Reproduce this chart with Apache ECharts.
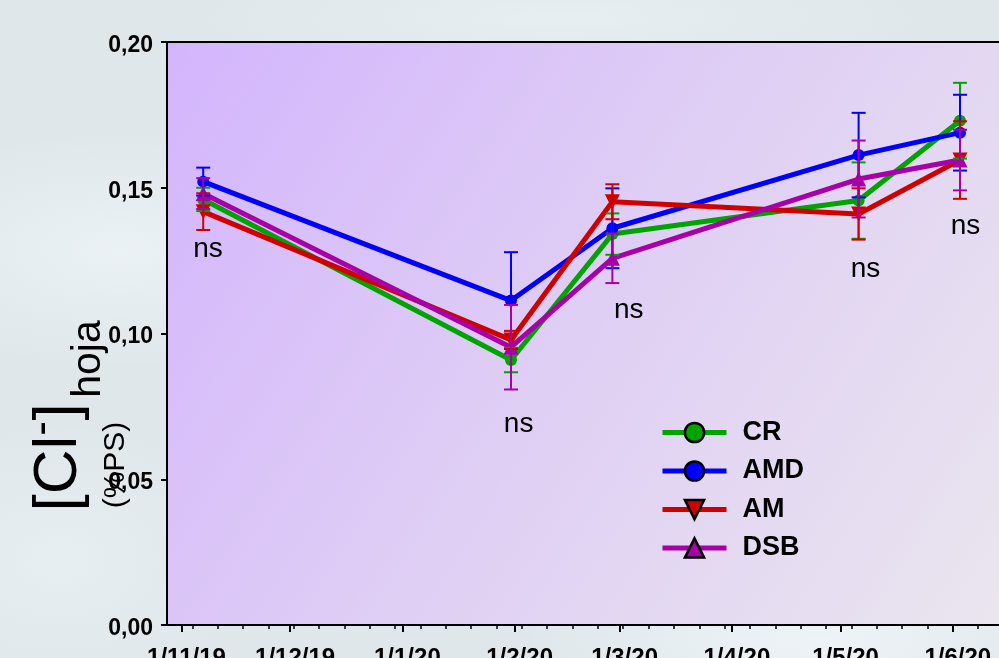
<!DOCTYPE html>
<html>
<head>
<meta charset="utf-8">
<script src="https://cdn.jsdelivr.net/npm/echarts@6/dist/echarts.min.js"></script>
<style>
  html, body { margin: 0; padding: 0; }
  body {
    width: 999px; height: 658px; overflow: hidden;
    background-color: #dfe7eb;
    background-image:
      radial-gradient(ellipse 260px 120px at 120px 250px, rgba(245,250,252,0.55), rgba(245,250,252,0) 100%),
      radial-gradient(ellipse 300px 90px at 820px 640px, rgba(248,252,253,0.6), rgba(248,252,253,0) 100%),
      radial-gradient(ellipse 380px 60px at 560px 18px, rgba(240,245,247,0.5), rgba(240,245,247,0) 100%),
      radial-gradient(ellipse 200px 140px at 60px 560px, rgba(242,247,249,0.45), rgba(242,247,249,0) 100%);
  }
  #chart { width: 999px; height: 658px; }
</style>
</head>
<body>
<div id="chart"></div>
<script>
// Sampling dates and leaf chloride content (% dry weight) per treatment
const sampleDates = ['2019-11-07', '2020-01-31', '2020-02-28', '2020-05-06', '2020-06-03'];

const crValues  = [0.1460, 0.0909, 0.1341, 0.1456, 0.1730];
const amdValues = [0.1521, 0.1113, 0.1361, 0.1612, 0.1689];
const amValues  = [0.1418, 0.0978, 0.1452, 0.1410, 0.1595];
const dsbValues = [0.1480, 0.0953, 0.1258, 0.1530, 0.1595];

// Standard errors
const crErr  = [0.0040, 0.0042, 0.0071, 0.0131, 0.0130];
const amdErr = [0.0048, 0.0166, 0.0137, 0.0145, 0.0130];
const amErr  = [0.0063, 0.0031, 0.0060, 0.0088, 0.0133];
const dsbErr = [0.0053, 0.0145, 0.0085, 0.0132, 0.0104];

// "ns" annotations (day offset from 1/11/19, value)
const nsDays   = [7.3, 93.1, 123.5, 188.9, 216.5];
const nsValues = [0.1289, 0.0689, 0.1081, 0.1221, 0.1369];

// Month tick labels
const monthLabels = ['2019-11-01', '2019-12-01', '2020-01-01', '2020-02-01', '2020-03-01', '2020-04-01', '2020-05-01', '2020-06-01'];
const monthTicks  = ['2019-11-01', '2019-12-01', '2020-01-01', '2020-02-01', '2020-03-01', '2020-04-01', '2020-05-01', '2020-06-01', '2020-07-01'];

const yTicks = [0, 0.05, 0.10, 0.15, 0.20];

const DAY = 86400000;
const ORIGIN = Date.UTC(2019, 10, 1);
function dayOf(s) {
  const p = s.split('-').map(Number);
  return Math.round((Date.UTC(p[0], p[1] - 1, p[2]) - ORIGIN) / DAY);
}
function dayLabel(d) {
  const t = new Date(ORIGIN + Math.round(d) * DAY);
  return t.getUTCDate() + '/' + (t.getUTCMonth() + 1) + '/' + String(t.getUTCFullYear() % 100).padStart(2, '0');
}

const xDays = sampleDates.map(dayOf);
// weekly (Monday) minor ticks
const weekTicks = [];
for (let d = dayOf('2019-11-04'); d <= 250; d += 7) weekTicks.push(d);

const FONT = 'Liberation Sans, Arial, sans-serif';
const colors = { CR: '#00a400', AMD: '#0000ff', AM: '#d00000', DSB: '#a800a8' };

function pairs(vals) { return vals.map((v, i) => [xDays[i], v]); }
function errData(vals, errs) { return vals.map((v, i) => [xDays[i], v - errs[i], v + errs[i]]); }

function errRender(color) {
  return function (params, api) {
    const x = api.value(0);
    const top = api.coord([x, api.value(2)]);
    const bot = api.coord([x, api.value(1)]);
    const w = 7;
    const st = { stroke: color, lineWidth: 2 };
    return {
      type: 'group',
      children: [
        { type: 'line', shape: { x1: top[0], y1: top[1], x2: bot[0], y2: bot[1] }, style: st },
        { type: 'line', shape: { x1: top[0] - w, y1: top[1], x2: top[0] + w, y2: top[1] }, style: st },
        { type: 'line', shape: { x1: bot[0] - w, y1: bot[1], x2: bot[0] + w, y2: bot[1] }, style: st }
      ]
    };
  };
}

function lineSeries(name, vals, symbol, size, rotate) {
  return {
    name: name, type: 'line', data: pairs(vals),
    symbol: symbol, symbolSize: size, symbolRotate: rotate || 0,
    showSymbol: true,
    lineStyle: { width: 5, color: colors[name] },
    itemStyle: { color: colors[name] },
    z: 3, animation: false
  };
}
function errSeries(name, vals, errs) {
  return {
    name: name + ' err', type: 'custom', data: errData(vals, errs),
    renderItem: errRender(colors[name]), z: 4, animation: false, silent: true
  };
}

const chart = echarts.init(document.getElementById('chart'), null, { renderer: 'canvas' });

const axisBlack = { show: true, onZero: false, lineStyle: { color: '#000', width: 2 } };

chart.setOption({
  animation: false,
  textStyle: { fontFamily: FONT },
  grid: {
    left: 167, top: 42, width: 898, height: 583,
    containLabel: false, outerBoundsMode: 'none',
    show: true, borderColor: '#000', borderWidth: 2,
    backgroundColor: new echarts.graphic.LinearGradient(0, 0, 1, 1, [
      { offset: 0, color: '#d3b5fd' },
      { offset: 0.5, color: '#e0d0f4' },
      { offset: 1, color: '#ebe8ee' }
    ])
  },
  xAxis: [
    {
      type: 'value', min: -4, max: 244, position: 'bottom',
      axisLine: axisBlack,
      axisTick: { show: true, customValues: monthTicks.map(dayOf), length: 7, lineStyle: { color: '#000', width: 2 } },
      axisLabel: {
        customValues: monthLabels.map(dayOf), formatter: dayLabel,
        fontSize: 24, fontWeight: 'bold', color: '#000', fontFamily: FONT,
        margin: 21, padding: [0, 0, 0, 10]
      },
      splitLine: { show: false }
    },
    {
      type: 'value', min: -4, max: 244, position: 'bottom', offset: 0,
      axisLine: { show: false, onZero: false },
      axisTick: { show: true, customValues: weekTicks, length: 4, lineStyle: { color: '#000', width: 1.5 } },
      axisLabel: { show: false },
      splitLine: { show: false }
    }
  ],
  yAxis: {
    type: 'value', min: 0, max: 0.2, interval: 0.05,
    axisLine: axisBlack,
    axisTick: { show: true, length: 6, lineStyle: { color: '#000', width: 2 } },
    axisLabel: {
      customValues: yTicks,
      formatter: v => '{v|' + v.toFixed(2).replace('.', ',') + '}',
      rich: { v: { fontSize: 23, fontWeight: 'bold', color: '#000', fontFamily: FONT, padding: [7, 0, 0, 0] } },
      fontSize: 23, fontWeight: 'bold', color: '#000', fontFamily: FONT, margin: 14
    },
    splitLine: { show: false }
  },
  legend: {
    data: ['CR', 'AMD', 'AM', 'DSB'],
    orient: 'vertical', left: 660, top: 419, padding: 0,
    itemWidth: 64, itemHeight: 24, itemGap: 11.5,
    itemStyle: { borderColor: '#000', borderWidth: 2.5 },
    lineStyle: { width: 5 },
    textStyle: { fontSize: 27, fontWeight: 'bold', color: '#000', fontFamily: FONT, padding: [0, 0, 0, 11] },
    selectedMode: false
  },
  series: [
    lineSeries('CR', crValues, 'circle', 12),
    lineSeries('AMD', amdValues, 'circle', 12),
    lineSeries('AM', amValues, 'triangle', 15, 180),
    lineSeries('DSB', dsbValues, 'triangle', 15),
    errSeries('CR', crValues, crErr),
    errSeries('AMD', amdValues, amdErr),
    errSeries('AM', amValues, amErr),
    errSeries('DSB', dsbValues, dsbErr),
    {
      name: 'ns', type: 'custom', silent: true, z: 5,
      data: nsDays.map((d, i) => [d, nsValues[i]]),
      renderItem: function (params, api) {
        const p = api.coord([api.value(0), api.value(1)]);
        return {
          type: 'text', x: p[0], y: p[1],
          style: { text: 'ns', fontSize: 28, fontFamily: FONT, fill: '#000', align: 'center', verticalAlign: 'middle' }
        };
      }
    }
  ],
  graphic: [
    { type: 'text', x: 59, y: 473.5, rotation: Math.PI / 2,
      style: { text: '[Cl', fontSize: 62, fontFamily: FONT, fill: '#000', align: 'center', verticalAlign: 'middle' } },
    { type: 'text', x: 43, y: 428.5, rotation: Math.PI / 2,
      style: { text: '-', fontSize: 44, fontFamily: FONT, fill: '#000', align: 'center', verticalAlign: 'middle' } },
    { type: 'text', x: 59, y: 412, rotation: Math.PI / 2,
      style: { text: ']', fontSize: 62, fontFamily: FONT, fill: '#000', align: 'center', verticalAlign: 'middle' } },
    { type: 'text', x: 89, y: 359, rotation: Math.PI / 2,
      style: { text: 'hoja', fontSize: 41, fontFamily: FONT, fill: '#000', align: 'center', verticalAlign: 'middle' } },
    { type: 'text', x: 116, y: 465, rotation: Math.PI / 2,
      style: { text: '(%PS)', fontSize: 30, fontFamily: FONT, fill: '#000', align: 'center', verticalAlign: 'middle' } }
  ]
});
</script>
</body>
</html>
